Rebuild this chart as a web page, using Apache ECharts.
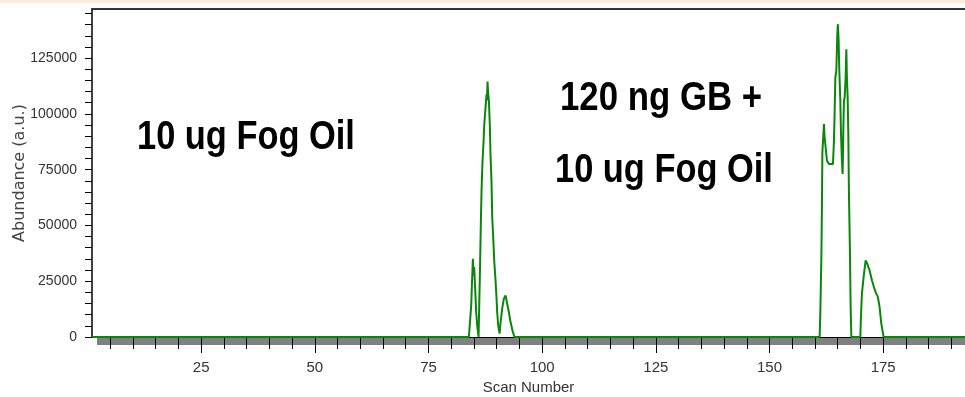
<!DOCTYPE html>
<html>
<head>
<meta charset="utf-8">
<script src="https://cdn.jsdelivr.net/npm/echarts@6/dist/echarts.min.js"></script>
<style>
html,body{margin:0;padding:0;background:#fff;}
#chart{width:965px;height:397px;}
</style>
</head>
<body>
<div id="chart"></div>
<script>
// Scan numbers and abundances
const scans = [
  1, 83.89, 84.11, 84.40, 84.55, 84.77, 84.92, 85.05, 85.27, 85.49, 85.71, 86.02,
  86.10, 86.31, 86.53, 86.67, 86.89, 87.11, 87.26, 87.55, 87.77, 87.85, 87.99,
  88.10, 88.29, 88.51, 88.65, 88.87, 89.02, 89.24, 89.46, 89.75, 89.97, 90.11,
  90.33, 90.64, 90.86, 91.21, 91.58, 91.96, 92.31, 92.68, 93.05, 93.56, 93.93,
  161.03, 161.19, 161.41, 161.54, 161.63, 161.98, 162.13, 162.35, 162.64, 163.08,
  163.96, 164.18, 164.33, 164.48, 164.70, 164.92, 165.05, 165.21, 165.36, 165.58,
  165.71, 165.93, 166.09, 166.24, 166.37, 166.53, 166.75, 166.90, 167.03, 167.19,
  167.34, 167.47, 167.69, 167.85, 168.00,
  169.98, 170.11, 170.33, 170.70, 171.14, 171.52, 172.02, 172.53, 172.97, 173.34,
  173.85, 174.22, 174.59, 175.10, 193
];
const abundance = [
  0, 0, 6000, 14200, 23100, 35000, 27600, 31300, 21600, 11200, 5200, 0,
  0, 28350, 52000, 65600, 79000, 87200, 94700, 102900, 108800, 106000, 114500,
  110000, 105900, 93900, 81300, 69300, 53700, 44700, 34300, 25400, 17500, 11200,
  5200, 1500, 6700, 12700, 17200, 18650, 14900, 11200, 6700, 2200, 0,
  0, 11900, 35800, 58900, 82700, 95400, 89400, 85000, 79000, 77500,
  77500, 88000, 100600, 116300, 119300, 135700, 140200, 132700, 119300, 105900,
  92500, 79000, 73100, 92500, 105900, 107300, 116300, 129000, 116300, 107300,
  91000, 64900, 38800, 13400, 0,
  0, 8900, 19400, 26800, 34300, 32800, 29800, 25400, 22400, 20100,
  17900, 13400, 6000, 0, 0
];
const xMajorTicks = [25, 50, 75, 100, 125, 150, 175];
const xMinorTicks = [5,10,15,20,30,35,40,45,55,60,65,70,80,85,90,95,105,110,115,120,130,135,140,145,155,160,165,170,180,185,190];
const yTicks = [];
for (let v = 0; v <= 145000; v += 5000) yTicks.push(v);
const yLabels = [0, 25000, 50000, 75000, 100000, 125000];
const annotations = ['10 ug Fog Oil', '120 ng GB +', '10 ug Fog Oil'];

const chart = echarts.init(document.getElementById('chart'), null, {renderer: 'canvas'});
const font = 'Liberation Sans, Arial, sans-serif';
const data = scans.map((s, i) => [s, abundance[i]]);

chart.setOption({
  animation: false,
  backgroundColor: '#ffffff',
  grid: {left: 92, right: 0, top: 9, bottom: 60, containLabel: false, outerBoundsMode: 'none'},
  xAxis: [
    {
      type: 'value', min: 1, max: 193, position: 'bottom',
      name: 'Scan Number', nameLocation: 'middle', nameGap: 43, nameMoveOverlap: false,
      nameTextStyle: {fontFamily: font, fontSize: 15, color: '#333'},
      axisLine: {show: true, lineStyle: {color: '#000', width: 1}},
      axisTick: {show: true, customValues: xMajorTicks, length: 16, lineStyle: {color: '#000', width: 1}},
      axisLabel: {show: true, customValues: xMajorTicks, margin: 23, fontFamily: font, fontSize: 15, color: '#333',
        formatter: v => String(v)},
      splitLine: {show: false}
    },
    {
      type: 'value', min: 1, max: 193, position: 'bottom',
      axisLine: {show: false},
      axisTick: {show: true, customValues: xMinorTicks, length: 12, lineStyle: {color: '#000', width: 1}},
      axisLabel: {show: false},
      splitLine: {show: false}
    },
    {
      type: 'value', min: 1, max: 193, position: 'top',
      axisLine: {show: true, lineStyle: {color: '#333', width: 2}},
      axisTick: {show: false}, axisLabel: {show: false}, splitLine: {show: false}
    }
  ],
  yAxis: {
    type: 'value', min: 0, max: 147000,
    name: 'Abundance (a.u.)', nameLocation: 'middle', nameGap: 64, nameMoveOverlap: false,
    nameTextStyle: {fontFamily: 'DejaVu Sans, sans-serif', fontSize: 16, color: '#444'},
    axisLine: {show: true, lineStyle: {color: '#000', width: 1.5}},
    axisTick: {show: true, customValues: yTicks, length: 7, lineStyle: {color: '#000', width: 1}},
    axisLabel: {show: true, customValues: yLabels, margin: 15, fontFamily: font, fontSize: 14, color: '#333',
      formatter: v => String(v)},
    splitLine: {show: false}
  },
  graphic: [
    {type: 'rect', z: -10, shape: {x: 0, y: 0, width: 965, height: 3}, style: {fill: '#fcefd9'}},
    {type: 'rect', z: -10, shape: {x: 97, y: 338, width: 868, height: 7}, style: {fill: '#808080'}},
    {type: 'text', x: 137, y: 118, scaleX: 0.86, style: {text: annotations[0], font: 'bold 40px ' + font, fill: '#000', align: 'left', verticalAlign: 'top'}},
    {type: 'text', x: 560, y: 79, scaleX: 0.87, style: {text: annotations[1], font: 'bold 40px ' + font, fill: '#000', align: 'left', verticalAlign: 'top'}},
    {type: 'text', x: 555, y: 151, scaleX: 0.86, style: {text: annotations[2], font: 'bold 40px ' + font, fill: '#000', align: 'left', verticalAlign: 'top'}}
  ],
  series: [{
    type: 'line', xAxisIndex: 0, yAxisIndex: 0,
    data: data, showSymbol: false, symbol: 'none',
    lineStyle: {color: '#0a870a', width: 2},
    z: 5
  }]
});
</script>
</body>
</html>
